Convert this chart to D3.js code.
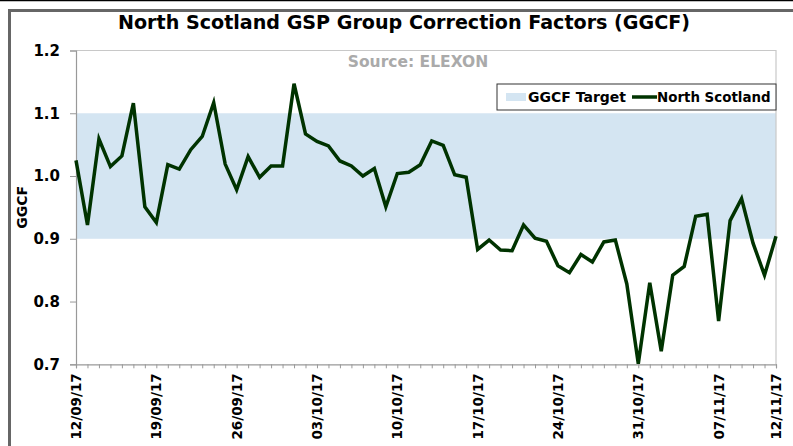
<!DOCTYPE html>
<html>
<head>
<meta charset="utf-8">
<script src="https://cdn.jsdelivr.net/npm/d3@7"></script>
<style>
  body { margin: 0; background: #fff; }
  svg { display: block; font-family: "DejaVu Sans", Verdana, sans-serif; }
</style>
</head>
<body>
<div id="chart"></div>
<script>
// chart size, same as the picture
const svgWidth = 793;
const svgHeight = 446;
const plot = { left: 76, right: 776, top: 50.5, bottom: 364.3 };

// data, one value per day from 12/09/17 to 12/11/17
const startDay = "12/09/17";
const endDay = "12/11/17";
const ggcfValues = [
    1.025, 0.922, 1.059, 1.015, 1.032, 1.116, 0.951, 0.926, 1.018, 1.011,
    1.042, 1.063, 1.117, 1.019, 0.978, 1.031, 0.998, 1.016, 1.016, 1.147,
    1.067, 1.055, 1.048, 1.024, 1.016, 1.000, 1.012, 0.951, 1.004, 1.006,
    1.018, 1.056, 1.049, 1.002, 0.998, 0.883, 0.898, 0.882, 0.881, 0.922,
    0.901, 0.896, 0.857, 0.846, 0.875, 0.863, 0.895, 0.898, 0.828, 0.701,
    0.830, 0.721, 0.842, 0.856, 0.936, 0.939, 0.769, 0.929, 0.964, 0.893,
    0.842, 0.904
];
const targetBand = [0.9, 1.1];
const yTicks = [0.7, 0.8, 0.9, 1.0, 1.1, 1.2];
const xTickLabels = ["12/09/17", "19/09/17", "26/09/17", "03/10/17", "10/10/17",
    "17/10/17", "24/10/17", "31/10/17", "07/11/17", "12/11/17"];
const legendLabels = ["GGCF Target", "North Scotland"];

const parseDay = d3.timeParse("%d/%m/%y");
const days = d3.timeDay.range(parseDay(startDay), d3.timeDay.offset(parseDay(endDay), 1));
const series = days.map((d, i) => ({ date: d, value: ggcfValues[i] }));

const svg = d3.select("#chart")
    .append("svg")
    .attr("width", svgWidth)
    .attr("height", svgHeight);

// outer frame bits (the picture is cropped from a bigger sheet)
svg.append("line").attr("x1", 0).attr("x2", svgWidth).attr("y1", 0.5).attr("y2", 0.5)
    .attr("stroke", "#000").attr("stroke-width", 1.5);
svg.append("path")
    .attr("d", `M9.5,${svgHeight} V10.5 H${svgWidth}`)
    .attr("fill", "none")
    .attr("stroke", "#666")
    .attr("stroke-width", 3);

// scales
const x = d3.scaleTime()
    .domain([parseDay(startDay), parseDay(endDay)])
    .range([plot.left, plot.right]);
const y = d3.scaleLinear()
    .domain([0.7, 1.2])
    .range([plot.bottom, plot.top]);

// target band
svg.append("rect")
    .attr("x", plot.left)
    .attr("y", y(targetBand[1]))
    .attr("width", plot.right - plot.left)
    .attr("height", y(targetBand[0]) - y(targetBand[1]))
    .attr("fill", "#d4e5f2");

// plot border, top and right only
svg.append("path")
    .attr("d", `M${plot.left},${plot.top} H${plot.right} V${plot.bottom}`)
    .attr("fill", "none")
    .attr("stroke", "#c8c8c8")
    .attr("stroke-width", 1.2);

// y axis
const yAxis = svg.append("g")
    .attr("class", "axis axis-y")
    .attr("transform", `translate(${plot.left},0)`)
    .call(d3.axisLeft(y).tickValues(yTicks).tickSize(6).tickPadding(10).tickFormat(d3.format(".1f")));
yAxis.select(".domain").attr("stroke", "#999").attr("stroke-width", 1.2);
yAxis.selectAll(".tick line").attr("stroke", "#999");
yAxis.selectAll(".tick text")
    .attr("font-size", "15px")
    .attr("font-weight", "bold")
    .attr("fill", "#000")
    .attr("font-family", "DejaVu Sans, sans-serif");

// x axis, a small tick per day
const xAxis = svg.append("g")
    .attr("class", "axis axis-x")
    .attr("transform", `translate(0,${plot.bottom})`)
    .call(d3.axisBottom(x).tickValues(days).tickSize(4).tickFormat(""));
xAxis.select(".domain").attr("stroke", "#999").attr("stroke-width", 1.2);
xAxis.selectAll(".tick line").attr("stroke", "#999");

// weekly labels, rotated
svg.append("g")
    .selectAll("text")
    .data(xTickLabels)
    .enter()
    .append("text")
    .attr("transform", d => `translate(${x(parseDay(d)) + 5},${plot.bottom + 9}) rotate(-90)`)
    .attr("text-anchor", "end")
    .attr("font-size", "13.5px")
    .attr("font-weight", "bold")
    .attr("font-family", "DejaVu Sans, sans-serif")
    .text(d => d);

// the line
const line = d3.line()
    .x(d => x(d.date))
    .y(d => y(d.value));
svg.append("path")
    .datum(series)
    .attr("d", line)
    .attr("fill", "none")
    .attr("stroke", "#003300")
    .attr("stroke-width", 3.5)
    .attr("stroke-linejoin", "miter");

// titles
svg.append("text")
    .text("North Scotland GSP Group Correction Factors (GGCF)")
    .attr("class", "title")
    .attr("x", 404)
    .attr("y", 29)
    .attr("text-anchor", "middle")
    .attr("font-size", "19px")
    .attr("font-weight", "bold")
    .attr("textLength", 572)
    .attr("lengthAdjust", "spacingAndGlyphs")
    .attr("font-family", "DejaVu Sans, sans-serif");

svg.append("text")
    .text("Source: ELEXON")
    .attr("x", 418)
    .attr("y", 67)
    .attr("text-anchor", "middle")
    .attr("font-size", "15.5px")
    .attr("font-weight", "bold")
    .attr("fill", "#aaaaaa");

svg.append("text")
    .text("GGCF")
    .attr("transform", `translate(27,${(plot.top + plot.bottom) / 2}) rotate(-90)`)
    .attr("text-anchor", "middle")
    .attr("font-size", "14px")
    .attr("font-weight", "bold");

// legend
const legend = svg.append("g").attr("transform", "translate(497,84)");
legend.append("rect")
    .attr("width", 279).attr("height", 26)
    .attr("fill", "#fff").attr("stroke", "#333").attr("stroke-width", 1);
legend.append("rect")
    .attr("x", 9).attr("y", 9).attr("width", 20).attr("height", 8)
    .attr("fill", "#d4e5f2");
legend.append("text")
    .text(legendLabels[0])
    .attr("x", 31).attr("y", 18)
    .attr("font-size", "14px").attr("font-weight", "bold");
legend.append("line")
    .attr("x1", 135).attr("x2", 160).attr("y1", 13).attr("y2", 13)
    .attr("stroke", "#003300").attr("stroke-width", 3.5);
legend.append("text")
    .text(legendLabels[1])
    .attr("x", 160).attr("y", 18)
    .attr("font-size", "13.4px").attr("font-weight", "bold");
</script>
</body>
</html>
